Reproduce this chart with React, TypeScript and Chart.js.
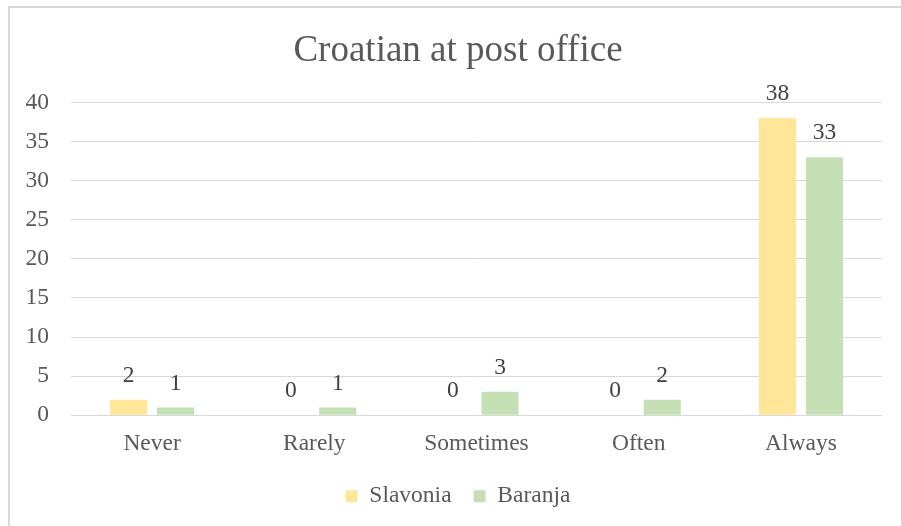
import React, { useEffect, useRef } from "react";
import { Chart, registerables } from "chart.js";

Chart.register(...registerables);

const categories = ["Never", "Rarely", "Sometimes", "Often", "Always"];
const slavonia = [2, 0, 0, 0, 38];
const baranja = [1, 1, 3, 2, 33];
const seriesNames = ["Slavonia", "Baranja"];
const yTicks = [0, 5, 10, 15, 20, 25, 30, 35, 40];

const FONT = "'Liberation Serif', 'Times New Roman', serif";
const TEXT = "#595959";
const GRID = "#d9d9d9";
const FS = 23.5;

const frame = {
  id: "frame",
  beforeDraw(chart: any) {
    const ctx = chart.ctx;
    ctx.save();
    ctx.fillStyle = "#ffffff";
    ctx.fillRect(0, 0, chart.width, chart.height);
    ctx.strokeStyle = "#d9d9d9";
    ctx.lineWidth = 2;
    ctx.beginPath();
    ctx.moveTo(9, chart.height + 5);
    ctx.lineTo(9, 7);
    ctx.lineTo(chart.width + 5, 7);
    ctx.stroke();
    ctx.restore();
  },
};

// The original chart frame extends past the cropped right edge, so its
// centred title and legend sit a little right of the visible centre.
const centreShift = {
  id: "centreShift",
  afterLayout(chart: any) {
    const s = 12;
    if (chart.titleBlock) {
      chart.titleBlock.left += s;
      chart.titleBlock.right += s;
    }
    if (chart.legend) {
      chart.legend.left += s;
      chart.legend.right += s;
    }
  },
};

const dataLabels = {
  id: "dataLabels",
  afterDatasetsDraw(chart: any) {
    const ctx = chart.ctx;
    ctx.save();
    ctx.font = `${FS}px ${FONT}`;
    ctx.fillStyle = "#404040";
    ctx.textAlign = "center";
    ctx.textBaseline = "middle";
    chart.data.datasets.forEach((ds: any, i: number) => {
      const meta = chart.getDatasetMeta(i);
      meta.data.forEach((bar: any, j: number) => {
        ctx.fillText(String(ds.data[j]), bar.x, bar.y - 24);
      });
    });
    ctx.restore();
  },
};

export default function App() {
  const ref = useRef<HTMLCanvasElement>(null);
  useEffect(() => {
    if (!ref.current) return;
    const chart = new Chart(ref.current, {
      type: "bar",
      data: {
        labels: categories,
        datasets: [
          {
            label: seriesNames[0],
            data: slavonia,
            backgroundColor: "#FFE699",
            categoryPercentage: 0.58,
            barPercentage: 0.79,
          },
          {
            label: seriesNames[1],
            data: baranja,
            backgroundColor: "#C5E0B4",
            categoryPercentage: 0.58,
            barPercentage: 0.79,
          },
        ],
      },
      options: {
        animation: false,
        responsive: false,
        maintainAspectRatio: false,
        layout: { padding: { top: 14, left: 10, right: 19, bottom: 8 } },
        plugins: {
          title: {
            display: true,
            text: "Croatian at post office",
            color: TEXT,
            font: { family: FONT, size: 37, weight: "normal" },
            padding: { top: 15, bottom: 29 },
          },
          legend: {
            position: "bottom",
            labels: {
              color: TEXT,
              font: { family: FONT, size: FS },
              boxWidth: 12,
              boxHeight: 12,
              padding: 22,
            },
          },
          tooltip: { enabled: false },
        },
        scales: {
          x: {
            afterFit(axis: any) {
              axis.height = axis.height - 9;
            },
            grid: { display: false, drawTicks: false },
            border: { display: false },
            ticks: { color: TEXT, font: { family: FONT, size: FS }, padding: 14 },
          },
          y: {
            min: 0,
            max: 40,
            afterFit(axis: any) {
              axis.width = 61;
            },
            afterBuildTicks(axis: any) {
              axis.ticks = yTicks.map((v) => ({ value: v }));
            },
            grid: { color: GRID, lineWidth: 1, drawTicks: false },
            border: { display: false },
            ticks: { color: TEXT, font: { family: FONT, size: FS }, padding: 22 },
          },
        },
      },
      plugins: [frame, centreShift, dataLabels],
    });
    return () => chart.destroy();
  }, []);
  return (
    <div style={{ position: "absolute", left: 0, top: 0, width: 901, height: 526 }}>
      <canvas ref={ref} width={901} height={526} style={{ width: 901, height: 526 }} />
    </div>
  );
}
